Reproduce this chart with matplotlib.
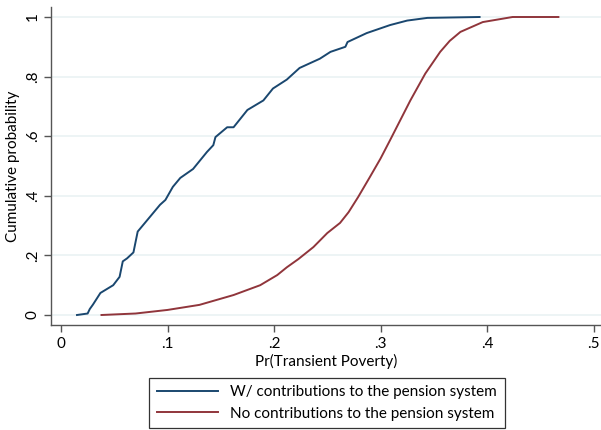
import matplotlib
matplotlib.use("Agg")
import matplotlib.pyplot as plt
from matplotlib.lines import Line2D

blue_x = [0.015, 0.025, 0.027, 0.030, 0.037, 0.049, 0.055, 0.058, 0.062, 0.068, 0.072,
          0.079, 0.086, 0.093, 0.098, 0.105, 0.112, 0.124, 0.137, 0.143, 0.145, 0.156,
          0.162, 0.175, 0.190, 0.199, 0.212, 0.224, 0.243, 0.253, 0.267, 0.269, 0.287,
          0.309, 0.325, 0.344, 0.393]
blue_y = [0.000, 0.005, 0.020, 0.035, 0.074, 0.100, 0.128, 0.180, 0.190, 0.210, 0.280,
          0.310, 0.340, 0.370, 0.386, 0.430, 0.460, 0.490, 0.547, 0.570, 0.597, 0.630,
          0.630, 0.688, 0.720, 0.760, 0.790, 0.829, 0.860, 0.883, 0.900, 0.916, 0.946,
          0.973, 0.988, 0.997, 1.000]

red_x = [0.038, 0.070, 0.100, 0.130, 0.162, 0.187, 0.203, 0.212, 0.223, 0.237, 0.250,
         0.262, 0.270, 0.279, 0.290, 0.300, 0.309, 0.318, 0.328, 0.342, 0.356, 0.365,
         0.375, 0.396, 0.424, 0.467]
red_y = [0.000, 0.005, 0.017, 0.034, 0.067, 0.100, 0.134, 0.160, 0.188, 0.228, 0.275,
         0.309, 0.345, 0.396, 0.463, 0.525, 0.587, 0.650, 0.720, 0.810, 0.883, 0.920,
         0.950, 0.983, 1.000, 1.000]

x_ticks = [0, 0.1, 0.2, 0.3, 0.4, 0.5]
x_labels = ["0", ".1", ".2", ".3", ".4", ".5"]
y_ticks = [0, 0.2, 0.4, 0.6, 0.8, 1.0]
y_labels = ["0", ".2", ".4", ".6", ".8", "1"]
series_labels = ["W/ contributions to the pension system",
                 "No contributions to the pension system"]

BLUE = "#1a476f"
RED = "#90353b"
AXC = "#555555"

plt.rcParams['font.family'] = ['Lato', 'DejaVu Sans']

fig = plt.figure(figsize=(6.01, 4.30), dpi=100)
fig.patch.set_facecolor("white")
ax = fig.add_axes([51/601, (430-325)/430, 1 - 51/601, (325-7)/430])

ax.set_xlim(-0.0094, 0.507)
ax.set_ylim(-10/298, 1 + 10/298)

for yt in y_ticks:
    ax.axhline(yt, color="#eaf2f3", lw=1.2, zorder=0)

ax.plot(blue_x, blue_y, color=BLUE, lw=1.4, zorder=3)
ax.plot(red_x, red_y, color=RED, lw=1.4, zorder=3)

ax.spines['top'].set_visible(False)
ax.spines['right'].set_visible(False)
for s in ['left', 'bottom']:
    ax.spines[s].set_color(AXC)
    ax.spines[s].set_linewidth(1.0)

ax.set_xticks(x_ticks)
ax.set_xticklabels(x_labels)
ax.set_yticks(y_ticks)
ax.set_yticklabels(y_labels, rotation=90, va='center')
ax.tick_params(axis='both', colors=AXC, labelcolor='black', length=5, width=1,
               labelsize=11, direction='out')
ax.tick_params(axis='x', pad=4)
ax.tick_params(axis='y', pad=3)

ax.set_xlabel("Pr(Transient Poverty)", fontsize=11, labelpad=2)
ax.set_ylabel("Cumulative probability", fontsize=11, labelpad=4)

handles = [Line2D([], [], color=BLUE, lw=1.4), Line2D([], [], color=RED, lw=1.4)]
leg = fig.legend(handles, series_labels, loc='center',
                 bbox_to_anchor=(327/601, (430-403)/430), fontsize=11,
                 frameon=True, fancybox=False, edgecolor='black', handlelength=4.0,
                 borderpad=0.5, labelspacing=0.5, handletextpad=0.8)
leg.get_frame().set_linewidth(0.9)

fig.savefig("out.png", dpi=100)
